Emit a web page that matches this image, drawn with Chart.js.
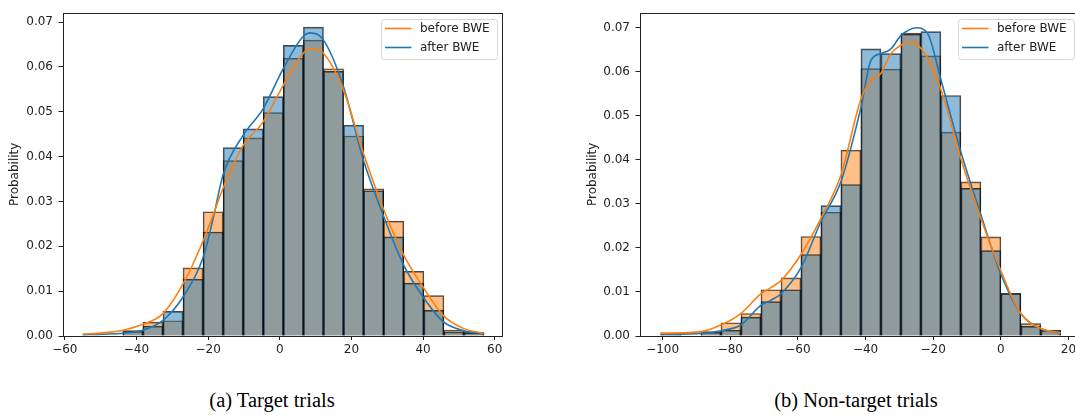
<!DOCTYPE html>
<html><head><meta charset="utf-8">
<script src="https://cdn.jsdelivr.net/npm/chart.js@4.4.1/dist/chart.umd.min.js"></script>
<style>
html,body{margin:0;padding:0;background:#fff;}
#wrap{position:relative;width:1075px;height:415px;overflow:hidden;background:#fff;}
canvas{position:absolute;}
.cap{position:absolute;font-family:"Liberation Serif","Times New Roman",serif;font-size:20.5px;line-height:22px;color:#000;white-space:nowrap;transform:translateX(-50%);}
</style></head><body>
<div id="wrap">
<canvas id="c1" width="520" height="375" style="left:0;top:0"></canvas>
<canvas id="c2" width="503" height="375" style="left:578px;top:0"></canvas>
<div class="cap" style="left:272px;top:389px">(a) Target trials</div>
<div class="cap" style="left:856px;top:389px">(b) Non-target trials</div>
</div>
<script>
// ---------- data ----------
const seriesLabels = ['before BWE', 'after BWE'];
const yTicks = [0, 0.01, 0.02, 0.03, 0.04, 0.05, 0.06, 0.07];

// (a) Target trials
const targetBins = [-52.2, -46.6, -41.0, -35.4, -29.8, -24.2, -18.6, -13.0, -7.4, -1.8,
                    3.8, 9.4, 15.0, 20.6, 26.2, 31.8, 37.4, 43.0, 48.6, 54.2];
const targetBefore = [0, 0, 0.0012, 0.0031, 0.0034, 0.0152, 0.0277, 0.0391, 0.0442, 0.0498,
                      0.0619, 0.0660, 0.0596, 0.0446, 0.0328, 0.0256, 0.0144, 0.0090, 0.0013, 0.0008];
const targetAfter  = [0, 0, 0.0010, 0.0022, 0.0055, 0.0127, 0.0232, 0.0420, 0.0462, 0.0534,
                      0.0648, 0.0689, 0.0590, 0.0470, 0.0324, 0.0221, 0.0118, 0.0057, 0.0009, 0.0007];
const targetKdeX      = [-55, -49.4, -43.7, -38.2, -32.6, -27.0, -21.4, -18.6, -15.8, -10.2, -4.7, 0.9,
                         6.5, 8.6, 12.1, 17.7, 23.2, 28.8, 34.4, 40.0, 45.6, 51.2, 57];
const targetKdeBefore = [0.0004, 0.0007, 0.0013, 0.0026, 0.0050, 0.0116, 0.0212, 0.0270, 0.0330, 0.0425, 0.0477, 0.0558,
                         0.0630, 0.0641, 0.0631, 0.0550, 0.0411, 0.0286, 0.0183, 0.0109, 0.0046, 0.0017, 0.0006];
const targetKdeAfter  = [0.0003, 0.0004, 0.0006, 0.0013, 0.0035, 0.0087, 0.0175, 0.0262, 0.0360, 0.0448, 0.0506, 0.0595,
                         0.0668, 0.0676, 0.0661, 0.0558, 0.0396, 0.0271, 0.0161, 0.0087, 0.0032, 0.0012, 0.0005];
const targetXTicks = [-60, -40, -20, 0, 20, 40, 60];

// (b) Non-target trials
const nonTargetBins = [-97.54, -91.63, -85.72, -79.81, -73.90, -67.98, -62.07, -56.16, -50.25, -44.34,
                       -38.42, -32.51, -26.60, -20.69, -14.78, -8.86, -2.95, 2.96, 8.87, 14.78];
const nonTargetBefore = [0.0007, 0, 0.0010, 0.0030, 0.0051, 0.0105, 0.0132, 0.0226, 0.0281, 0.0422,
                         0.0607, 0.0606, 0.0688, 0.0636, 0.0463, 0.0350, 0.0225, 0.0097, 0.0028, 0.0012];
const nonTargetAfter  = [0.0004, 0, 0.0008, 0.0013, 0.0043, 0.0078, 0.0105, 0.0185, 0.0296, 0.0344,
                         0.0652, 0.0641, 0.0685, 0.0691, 0.0546, 0.0335, 0.0194, 0.0096, 0.0022, 0.0013];
const nonTargetKdeX      = [-100.7, -88.7, -82.8, -76.9, -70.9, -68.0, -65.0, -59.1, -53.2, -47.3, -41.4, -38.4,
                            -35.5, -32.5, -29.6, -27.6, -25.1, -21.6, -17.7, -11.8, -5.9, 0, 5.9, 11.8, 17.7];
const nonTargetKdeBefore = [0.0006, 0.0010, 0.0025, 0.0051, 0.0096, 0.0110, 0.0126, 0.0185, 0.0267, 0.0365, 0.0537, 0.0581,
                            0.0596, 0.0641, 0.0660, 0.0667, 0.0663, 0.0630, 0.0559, 0.0402, 0.0267, 0.0148, 0.0051, 0.0017, 0.0007];
const nonTargetKdeAfter  = [0.0004, 0.0006, 0.0012, 0.0025, 0.0070, 0.0081, 0.0096, 0.0155, 0.0260, 0.0350, 0.0518, 0.0626,
                            0.0641, 0.0652, 0.0682, 0.0693, 0.0700, 0.0686, 0.0581, 0.0417, 0.0275, 0.0141, 0.0051, 0.0017, 0.0006];
const nonTargetXTicks = [-100, -80, -60, -40, -20, 0, 20];

// ---------- styling ----------
const ORANGE = '#ff7f0e', BLUE = '#1f77b4';
const ORANGE_FILL = 'rgba(255,127,14,0.5)', BLUE_FILL = 'rgba(31,119,180,0.5)';
const EDGE = 'rgba(0,0,0,0.72)';
const TEXT = '#222';
const FONT_SIZE = 12;

Chart.defaults.font.family = '"DejaVu Sans", Verdana, sans-serif';
Chart.defaults.font.size = FONT_SIZE;
Chart.defaults.color = TEXT;

const framePlugin = {
  id: 'frame',
  afterDatasetsDraw(chart) {
    const {ctx, chartArea: a} = chart;
    const l = Math.round(a.left) + 0.5, t = Math.round(a.top) + 0.5;
    const r = Math.round(a.right) - 0.5, b = Math.round(a.bottom) + 0.5;
    ctx.save();
    ctx.strokeStyle = '#222';
    ctx.lineWidth = 1;
    ctx.strokeRect(l, t, r - l, b - t);
    ctx.restore();
  }
};

const legendPlugin = {
  id: 'boxLegend',
  afterDraw(chart) {
    const {ctx, chartArea: a} = chart;
    const items = chart.data.datasets.filter(d => d.type === 'line');
    const w = 116, h = 40, rad = 3;
    const x0 = Math.round(a.right - 6 - w) + 0.5, y0 = Math.round(a.top + 6) + 0.5;
    ctx.save();
    ctx.beginPath();
    ctx.moveTo(x0 + rad, y0);
    ctx.lineTo(x0 + w - rad, y0); ctx.quadraticCurveTo(x0 + w, y0, x0 + w, y0 + rad);
    ctx.lineTo(x0 + w, y0 + h - rad); ctx.quadraticCurveTo(x0 + w, y0 + h, x0 + w - rad, y0 + h);
    ctx.lineTo(x0 + rad, y0 + h); ctx.quadraticCurveTo(x0, y0 + h, x0, y0 + h - rad);
    ctx.lineTo(x0, y0 + rad); ctx.quadraticCurveTo(x0, y0, x0 + rad, y0);
    ctx.closePath();
    ctx.fillStyle = 'rgba(255,255,255,0.8)';
    ctx.fill();
    ctx.strokeStyle = '#d6d6d6';
    ctx.lineWidth = 1;
    ctx.stroke();
    ctx.font = FONT_SIZE + 'px "DejaVu Sans", Verdana, sans-serif';
    ctx.textBaseline = 'middle';
    ctx.textAlign = 'left';
    items.forEach((d, i) => {
      const y = y0 + 9 + i * 19;
      ctx.beginPath();
      ctx.moveTo(x0 + 3.5, y);
      ctx.lineTo(x0 + 30, y);
      ctx.strokeStyle = d.borderColor;
      ctx.lineWidth = 1.6;
      ctx.stroke();
      ctx.fillStyle = TEXT;
      ctx.fillText(d.label, x0 + 38.5, y);
    });
    ctx.restore();
  }
};

const fmtX = v => (v < 0 ? '\u2212' : '') + Math.abs(v);

function makeChart(id, o) {
  const pts = (xs, ys) => xs.map((x, i) => ({x: x, y: ys[i]}));
  const barCommon = {
    type: 'bar', grouped: false, barPercentage: 1, categoryPercentage: 1,
    borderColor: EDGE, borderWidth: 1, borderSkipped: 'start'
  };
  const lineCommon = {
    type: 'line', pointRadius: 0, borderWidth: 1.6, fill: false,
    cubicInterpolationMode: 'monotone'
  };
  return new Chart(document.getElementById(id), {
    type: 'bar',
    data: {
      datasets: [
        Object.assign({}, lineCommon, {label: seriesLabels[0], data: pts(o.kdeX, o.kdeBefore), borderColor: ORANGE, order: 0}),
        Object.assign({}, lineCommon, {label: seriesLabels[1], data: pts(o.kdeX, o.kdeAfter), borderColor: BLUE, order: 0}),
        Object.assign({}, barCommon, {label: seriesLabels[0] + ' hist', data: pts(o.bins, o.before), backgroundColor: ORANGE_FILL, order: 2}),
        Object.assign({}, barCommon, {label: seriesLabels[1] + ' hist', data: pts(o.bins, o.after), backgroundColor: BLUE_FILL, order: 1})
      ]
    },
    options: {
      responsive: false,
      animation: false,
      events: [],
      layout: {padding: o.padding},
      plugins: {legend: {display: false}, tooltip: {enabled: false}},
      scales: {
        x: {
          type: 'linear', min: o.xMin, max: o.xMax, offset: false,
          grid: {display: true, drawOnChartArea: false, drawTicks: true, tickLength: 4, color: '#222', offset: false},
          border: {display: false},
          ticks: {padding: 3, autoSkip: false, maxRotation: 0, callback: v => fmtX(v)},
          afterBuildTicks: s => { s.ticks = o.xTicks.map(v => ({value: v})); },
          afterFit: s => { s.height = 30; }
        },
        y: {
          type: 'linear', min: 0, max: o.yMax,
          grid: {display: true, drawOnChartArea: false, drawTicks: true, tickLength: 4.5, color: '#222'},
          border: {display: false},
          ticks: {padding: 5.5, autoSkip: false, callback: v => v.toFixed(2)},
          title: {display: true, text: 'Probability', font: {size: FONT_SIZE}, padding: {top: 7.8, bottom: 0}},
          afterBuildTicks: s => { s.ticks = yTicks.map(v => ({value: v})); },
          afterFit: s => { s.width = o.yWidth; }
        }
      }
    },
    plugins: [framePlugin, legendPlugin]
  });
}

makeChart('c1', {
  bins: targetBins, before: targetBefore, after: targetAfter,
  kdeX: targetKdeX, kdeBefore: targetKdeBefore, kdeAfter: targetKdeAfter,
  xTicks: targetXTicks, xMin: -60.5, xMax: 62.3, yMax: 0.0721,
  yWidth: 63, padding: {left: 0, top: 9, right: 17, bottom: 9}
});
makeChart('c2', {
  bins: nonTargetBins, before: nonTargetBefore, after: nonTargetAfter,
  kdeX: nonTargetKdeX, kdeBefore: nonTargetKdeBefore, kdeAfter: nonTargetKdeAfter,
  xTicks: nonTargetXTicks, xMin: -106.7, xMax: 23.4, yMax: 0.0734,
  yWidth: 62, padding: {left: 0, top: 9, right: 1, bottom: 9}
});
</script>
</body></html>
